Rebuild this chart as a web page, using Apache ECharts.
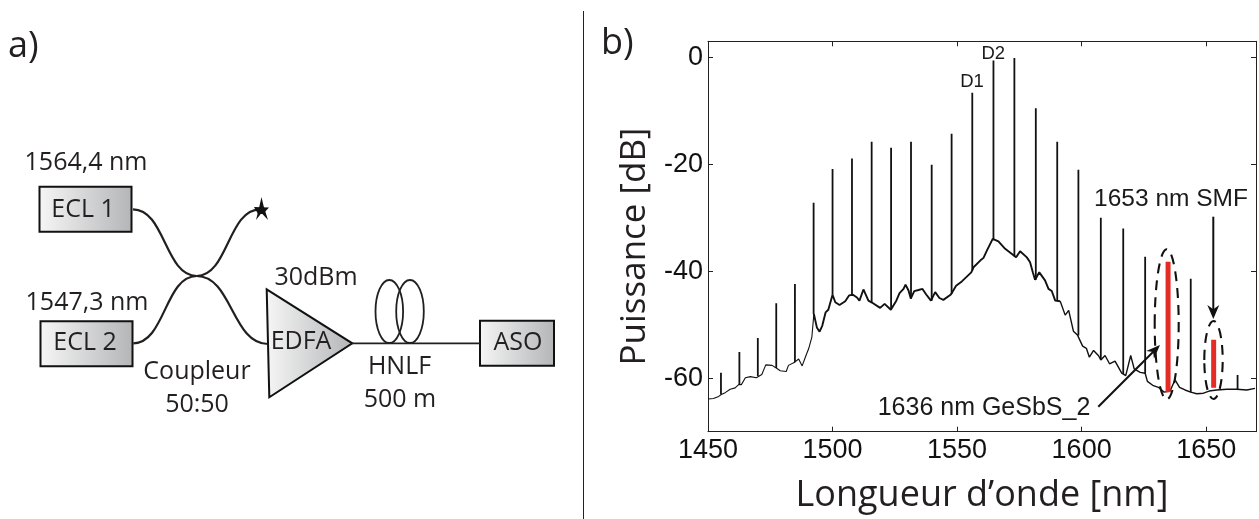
<!DOCTYPE html>
<html>
<head>
<meta charset="utf-8">
<style>html,body{margin:0;padding:0;background:#fff}#c{width:1259px;height:519px}</style>
<script src="https://cdn.jsdelivr.net/npm/echarts@6/dist/echarts.min.js"></script>
</head>
<body>
<div id="c"></div>
<script>
// Spectrum noise floor: wavelength (nm), power (dB)
const floorWl = [1450.1,1452.2,1454.3,1455.3,1456.9,1458.9,1460.9,1462.3,1463.4,1465,1467,1469.4,1471.6,1473.2,1475.7,1477.4,1479,1481.4,1482.3,1484.8,1486.4,1487.8,1489.3,1490.4,1491.7,1492.5,1493.7,1494.8,1495.9,1497.2,1498.3,1500,1501.1,1502.8,1505.1,1506.7,1508.2,1509.8,1510.8,1512.4,1514.4,1515.8,1519.1,1520.9,1523.4,1525.6,1526.9,1528.5,1529.3,1530.5,1531.4,1532.8,1534.5,1536.1,1537.6,1539.5,1541.2,1542.9,1544.5,1547.5,1549.6,1551.9,1555.7,1556.6,1559.3,1560.6,1562,1564.3,1566.6,1569.3,1572.4,1573.7,1575.3,1578,1579.3,1580.4,1581.3,1583,1585.3,1586.7,1588,1589.4,1591.4,1593.4,1594.8,1596.7,1598.3,1600.4,1601.9,1603.1,1604.8,1606.8,1607.7,1609.4,1611.2,1613.4,1616.1,1617.7,1619.7,1621.1,1623.5,1625.5,1626.4,1628.8,1630.8,1633.1,1635.5,1637.5,1639.3,1641.5,1643.8,1646.2,1648.9,1651.2,1654.2,1658.3,1662.3,1666.3,1669.6];
const floorDb = [-63.9,-63.8,-63.4,-63.05,-62.7,-62.05,-61.8,-61.2,-61.2,-59.9,-59.7,-59.9,-59.3,-57.5,-57.6,-58.1,-58.6,-58.75,-57.6,-57,-56.4,-57.7,-55.8,-54.5,-52.3,-48,-50.5,-51.3,-50.15,-47.7,-47.2,-44.4,-45.8,-46.3,-45.6,-44.5,-44.4,-44.9,-45.5,-43.4,-45.5,-45.85,-46.85,-46.1,-47.2,-45.5,-44.1,-43.3,-42.5,-43.6,-45.1,-43.7,-43.5,-43.3,-44.35,-45.5,-43.9,-45,-45.35,-44.35,-42.7,-41.9,-40.2,-39.25,-38,-37.5,-36.1,-33.95,-34.4,-35.8,-36.9,-37.4,-36.25,-37.4,-38.3,-40.2,-41.6,-40.2,-41.7,-43.3,-43.7,-45.5,-45.6,-48.2,-47.3,-51.2,-51.9,-54,-54.4,-56.07,-54.8,-55.8,-56.6,-55.75,-57.3,-56.8,-59.06,-59.5,-55.75,-58.25,-58.9,-59.06,-60.6,-61.4,-61.7,-62.6,-62.4,-60.3,-61.7,-62.2,-62.6,-62.9,-62.8,-62.4,-62.2,-62.05,-62.05,-62.2,-61.9];

// Spectral lines: wavelength, top and foot (dB)
const peakWl = [1455.2,1462.6,1470,1477.4,1484.9,1492.4,1500,1507.8,1515.7,1523.5,1531.5,1539.8,1547.8,1556.1,1564.6,1573,1581.6,1590.2,1598.7,1607.7,1616.7,1625.5,1643.8,1662.6];
const peakTop = [-59,-55.1,-52.5,-46,-42.4,-27.2,-20.9,-18.9,-15.8,-16.9,-15.8,-20.1,-14.3,-6.6,-0.6,-0.1,-9.5,-15.8,-21,-30,-32,-37.3,-41.4,-59.4];
const peakFoot = [-63,-61.2,-59.6,-58.1,-57,-48,-44.4,-44.4,-45.8,-47.2,-45.1,-45.5,-44.2,-39.8,-34,-37.2,-41.6,-45.5,-52,-56.6,-59.2,-59.1,-62.6,-62];

// Highlighted lines (red)
const redWl = [1634.7,1653];
const redTop = [-38.2,-52.8];
const redFoot = [-62.6,-61.8];

// Axis ticks
const xTicks = [1450,1500,1550,1600,1650];
const yTicks = [0,-20,-40,-60];

const MYRIAD = '"Open Sans"';
const ARIAL = '"Liberation Sans"';
const NARROW = '"Liberation Sans Narrow","Liberation Sans"';

function spikes(xs, tops, feet){
  const out = [];
  xs.forEach((x,i)=>{ out.push([x,feet[i]],[x,tops[i]],[x,null]); });
  return out;
}
const floorPts = floorWl.map((x,i)=>[x,floorDb[i]]);
function floorRange(a,b){ return floorPts.filter(p=>p[0]>=a && p[0]<=b); }

const grad = ()=>new echarts.graphic.LinearGradient(0,0,1,0,[
  {offset:0,color:'#f6f6f6'},{offset:1,color:'#b4b5b7'}]);

function txt(text,x,y,size,family,align,color){
  return {type:'text',silent:true,z:20,style:{text:text,x:x,y:y,fill:color||'#231f20',
    font:size+'px '+(family||MYRIAD),textAlign:align||'center',textVerticalAlign:'middle'}};
}
function box(x,y,w,h){
  return {type:'rect',silent:true,z:5,shape:{x:x,y:y,width:w,height:h},
    style:{fill:grad(),stroke:'#111',lineWidth:2}};
}
function curve(x1,y1,c1x,c1y,c2x,c2y,x2,y2){
  return {type:'bezierCurve',silent:true,z:6,shape:{x1:x1,y1:y1,cpx1:c1x,cpy1:c1y,cpx2:c2x,cpy2:c2y,x2:x2,y2:y2},
    style:{fill:'none',stroke:'#231f20',lineWidth:2.2}};
}
function seg(x1,y1,x2,y2,w,color){
  return {type:'line',silent:true,z:15,shape:{x1:x1,y1:y1,x2:x2,y2:y2},
    style:{stroke:color||'#111',lineWidth:w||2}};
}
function arrowHead(x1,y1,x2,y2,len,wid){
  const a=Math.atan2(y2-y1,x2-x1),c=Math.cos(a),s=Math.sin(a);
  const bx=x2-len*c,by=y2-len*s,nx=x2-len*0.7*c,ny=y2-len*0.7*s;
  return {type:'polygon',silent:true,z:15,shape:{points:[[x2,y2],[bx-wid*s,by+wid*c],[nx,ny],[bx+wid*s,by-wid*c]]},
    style:{fill:'#111'}};
}
function dashed(cx,cy,rx,ry){
  return {type:'ellipse',silent:true,z:14,shape:{cx:cx,cy:cy,rx:rx,ry:ry},
    style:{fill:'none',stroke:'#111',lineWidth:2.1,lineDash:[10,7]}};
}

const graphics = [
  // Divider
  seg(583.5,11,583.5,519,1,'#222'),
  // Panel letters
  txt('a)',8,47,36,MYRIAD,'left'),
  txt('b)',601,44,36,MYRIAD,'left'),
  // Schematic
  curve(133,209.3,165,209.3,165,276,196.7,276),
  curve(196.7,276,228,276,228,209.3,260,209.3),
  curve(133.3,343.3,165,343.3,165,276,196.7,276),
  curve(196.7,276,232,276,232,344,268,344),
  {type:'polygon',silent:true,z:7,shape:{points:[[261.5,197],[263.6,206],[268,220],[261.5,213],[256,220],[259,208]]},style:{fill:'#111'}},
  {type:'polygon',silent:true,z:7,shape:{points:[[254,207],[269,207.5],[263,214],[258,214]]},style:{fill:'#111'}},
  box(39.5,186.7,92,45),
  box(40.5,321.3,92,45),
  box(480,320.7,74,45),
  {type:'polygon',silent:true,z:5,shape:{points:[[266.7,289.3],[352.3,343.3],[269.3,397.3]]},style:{fill:grad(),stroke:'#111',lineWidth:2}},
  seg(352,343.3,480,343.3,1.8,'#231f20'),
  {type:'ellipse',silent:true,z:6,shape:{cx:389.3,cy:311.5,rx:13.8,ry:31.5},style:{fill:'none',stroke:'#231f20',lineWidth:1.8}},
  {type:'ellipse',silent:true,z:6,shape:{cx:410,cy:311.5,rx:13.8,ry:31.5},style:{fill:'none',stroke:'#231f20',lineWidth:1.8}},
  txt('1564,4 nm',86,163,25),
  txt('ECL 1',83,210,25),
  txt('1547,3 nm',87,303,25),
  txt('ECL 2',85,343,25),
  txt('Coupleur',197,372,25),
  txt('50:50',197,405,25),
  txt('30dBm',316,278,25),
  txt('EDFA',301,342,25),
  txt('HNLF',399.5,367,25),
  txt('500 m',400,400,25),
  txt('ASO',518,343,25),
  // Chart annotations
  txt('D1',972,81.7,18.5,NARROW,'center','#1a1a1a'),
  txt('D2',993.3,54,18.5,NARROW,'center','#1a1a1a'),
  txt('1653 nm SMF',1171,199,24.5,ARIAL,'center','#1a1a1a'),
  txt('1636 nm GeSbS_2',984,408,25,ARIAL,'center','#1a1a1a'),
  seg(1213.3,216.7,1213.3,316,2),
  arrowHead(1213.3,216.7,1213.3,319,14,6),
  seg(1098.3,406.7,1157,348,2),
  arrowHead(1098.3,406.7,1160,345,14,5.5),
  dashed(1166.7,324.3,12,75),
  dashed(1213.5,360,9.2,39)
];

const frame = {onZero:false,lineStyle:{color:'#222',width:1}};
const tickStyle = {inside:true,length:5,lineStyle:{color:'#222',width:1}};

const chart = echarts.init(document.getElementById('c'),null,{renderer:'canvas'});
chart.setOption({
  animation:false,
  backgroundColor:'#fff',
  grid:{left:708,top:41.3,width:548,height:390.4,containLabel:false,outerBoundsMode:'none'},
  xAxis:[
    {type:'value',position:'bottom',min:1450,max:1670,
     splitLine:{show:false},axisLine:frame,
     axisTick:{...tickStyle,customValues:xTicks},
     axisLabel:{customValues:xTicks,margin:5,color:'#111',fontFamily:ARIAL,fontSize:27,formatter:v=>String(v)},
     name:'Longueur d\u2019onde [nm]',nameLocation:'middle',nameGap:46,
     nameTextStyle:{fontFamily:MYRIAD,fontSize:36,color:'#231f20'}},
    {type:'value',position:'top',min:1450,max:1670,
     splitLine:{show:false},axisLine:frame,
     axisTick:{...tickStyle,customValues:xTicks},
     axisLabel:{show:false}}
  ],
  yAxis:[
    {type:'value',position:'left',min:-70,max:3,
     splitLine:{show:false},axisLine:frame,
     axisTick:{...tickStyle,customValues:yTicks},
     axisLabel:{customValues:yTicks,margin:5,color:'#111',fontFamily:ARIAL,fontSize:27,formatter:v=>String(v)},
     name:'Puissance [dB]',nameLocation:'middle',nameGap:55,
     nameTextStyle:{fontFamily:MYRIAD,fontSize:35,color:'#231f20',padding:[0,20,0,0]}},
    {type:'value',position:'right',min:-70,max:3,
     splitLine:{show:false},axisLine:frame,
     axisTick:{...tickStyle,customValues:yTicks},
     axisLabel:{show:false}}
  ],
  series:[
    {type:'line',name:'Plancher (fin)',data:floorRange(1450,1492.5),showSymbol:false,silent:true,
     lineStyle:{color:'#111',width:1.1},z:3},
    {type:'line',name:'Plancher',data:floorRange(1492.5,1592),showSymbol:false,silent:true,
     lineStyle:{color:'#111',width:1.9},z:3},
    {type:'line',name:'Plancher (droite)',data:floorRange(1591,1670),showSymbol:false,silent:true,
     lineStyle:{color:'#111',width:1.4},z:3},
    {type:'line',name:'Raies',data:spikes(peakWl,peakTop,peakFoot),showSymbol:false,silent:true,connectNulls:false,
     lineStyle:{color:'#111',width:1.8,cap:'butt'},z:4},
    {type:'line',name:'Raies rouges',data:spikes(redWl,redTop,redFoot),showSymbol:false,silent:true,connectNulls:false,
     lineStyle:{color:'#e52b26',width:5,cap:'butt'},z:5}
  ],
  graphic:{elements:graphics}
});
</script>
</body>
</html>
